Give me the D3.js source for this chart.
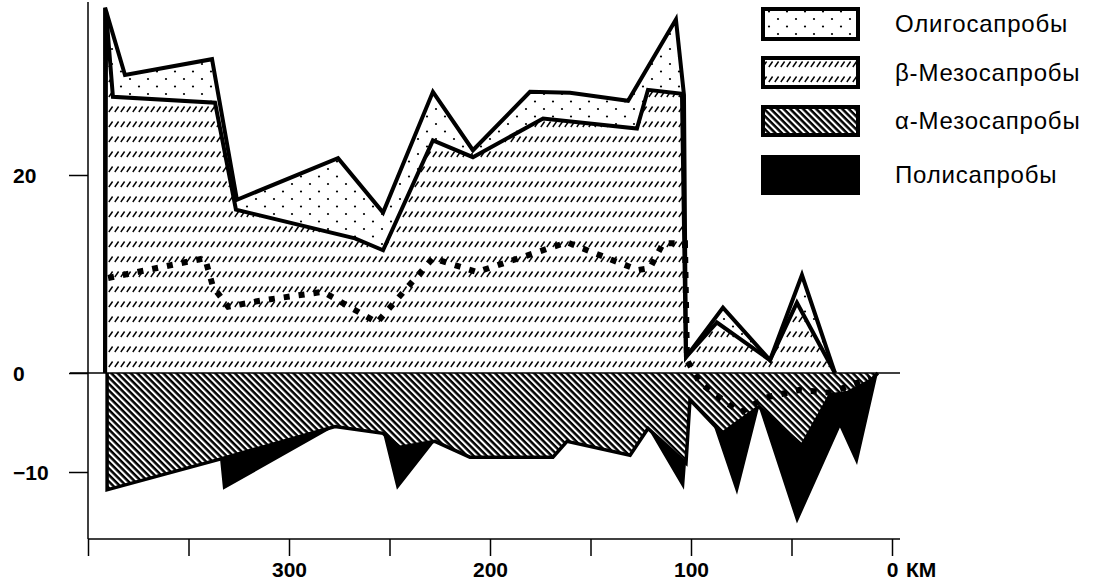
<!DOCTYPE html>
<meta charset="utf-8">
<style>
body { margin: 0; background: #fff; }
svg { display: block; font-family: "Liberation Sans", Arial, sans-serif; }
.outline { fill: none; stroke: #000; stroke-width: 4; }
.axis line, .axis path { stroke: #000; stroke-width: 1.5; }
.axis text { font-size: 21px; font-weight: bold; fill: #000; }
</style>
<svg width="1103" height="583"></svg>
<script src="https://d3js.org/d3.v7.min.js"></script>
<script>

// distance along the river (km) and share of indicator species (%)
// upper edge of the oligosaprobes band (stacked on top of beta)
var oligKm  = [391.5, 391.5, 381.6, 338.3, 325.9, 275.6, 253.2, 228.4, 208.5, 180.1, 160.2, 131.3, 107.5, 103.5, 102.5, 84.1, 60.7, 44.8, 28.4];
var oligTop = [0,     36.9,  30.1,  31.7,  17.5,  21.7,  16.2,  28.4,  22.5,  28.4,  28.3,  27.5,  35.7,  28.1,  1.6,   6.6,  1.3,  9.9,  0];

// upper edge of the beta-mesosaprobes band
var betaKm  = [391.5, 391.0, 387.6, 336.8, 326.4, 267.2, 253.2, 228.4, 208.5, 173.6, 126.9, 121.4, 104.5, 102.5, 87.1, 60.7, 47.3, 28.4];
var betaTop = [0,     36.5,  27.9,  27.3,  16.5,  13.6,  12.4,  23.5,  21.8,  25.7,  24.7,  28.6,  28.2,  1.6,   5.1,  1.3,  7.1,  0];

// lower edge of the alpha-mesosaprobes band (drawn below zero)
var alphaKm  = [390.5, 390.5, 334.3, 277.1, 253.2, 244.8, 227.4, 210.0, 168.7, 161.7, 130.3, 121.4, 102.5, 100.5, 84.6, 66.2, 44.8, 30.8, 22.4, 10.9, 7.0];
var alphaBot = [0,     -11.8, -8.7,  -5.4,  -6.1,  -7.5,  -6.9,  -8.5,  -8.5,  -6.9,  -8.3,  -5.6,  -9.1,  -2.7,  -6.1, -3.4, -7.3, -2.2, -2.0, -0.8, 0];

// lower edge of the polysaprobes band
var polyKm  = [390.5, 390.5, 334.3, 332.8, 277.1, 253.2, 246.3, 227.4, 210.0, 168.7, 161.7, 130.3, 121.4, 103.5, 102.5, 100.5, 89.1, 77.1, 66.2, 47.3, 25.9, 17.4, 7.0];
var polyBot = [0,     -11.8, -8.7,  -11.8, -5.4,  -6.1,  -11.8, -6.9,  -8.5,  -8.5,  -6.9,  -8.3,  -5.6,  -11.8, -9.1,  -2.7,  -5.1, -12.3, -3.5, -15.2, -5.5, -9.3, 0];

// dotted index line
var indexKm  = [390.0, 341.8, 337.8, 330.3, 314.4, 283.1, 256.2, 247.3, 228.4, 206.5, 161.7, 126.4, 120.4, 113.9, 103.0, 102.0, 95.5, 75.6, 63.2, 45.8, 30.8, 10.9];
var indexVal = [9.6,   11.6,  8.7,   6.7,   7.3,   8.2,   5.1,   7.2,   11.6,  10.2,  13.2,  10.4,  10.6,  13.1,  13.1,  1.3,   -1.0, -4.0, -2.5, -1.7, -2.0, -0.5];

var kmTicks = [400, 350, 300, 250, 200, 150, 100, 50, 0];
var kmLabels = {300: '300', 200: '200', 100: '100', 0: '0'};
var yTicks = [20, 0, -10];
var legendLabels = ['Олигосапробы', 'β-Мезосапробы', 'α-Мезосапробы', 'Полисапробы'];

var svg = d3.select('svg');

var x = d3.scaleLinear().domain([400, 0]).range([88, 892]);
var y = d3.scaleLinear().domain([0, 20]).range([373, 175]);

function pts(km, v) {
  return km.map(function(k, i) { return [k, v[i]]; });
}

// fill patterns
var defs = svg.append('defs');

var pDots = defs.append('pattern').attr('id', 'dots')
  .attr('patternUnits', 'userSpaceOnUse').attr('width', 18).attr('height', 15);
pDots.append('rect').attr('width', 18).attr('height', 15).attr('fill', '#fff');
pDots.append('circle').attr('cx', 4).attr('cy', 4).attr('r', 1.1).attr('fill', '#000');
pDots.append('circle').attr('cx', 13).attr('cy', 11.5).attr('r', 1.1).attr('fill', '#000');

var pDash = defs.append('pattern').attr('id', 'dash')
  .attr('patternUnits', 'userSpaceOnUse').attr('width', 6).attr('height', 15);
pDash.append('rect').attr('width', 6).attr('height', 15).attr('fill', '#fff');
pDash.append('path').attr('d', 'M0.8,7 L4.6,1.5').attr('stroke', '#000').attr('stroke-width', 1.4);

var pHatch = defs.append('pattern').attr('id', 'hatch')
  .attr('patternUnits', 'userSpaceOnUse').attr('width', 4.6).attr('height', 4.6)
  .attr('patternTransform', 'rotate(45)');
pHatch.append('rect').attr('width', 4.6).attr('height', 4.6).attr('fill', '#fff');
pHatch.append('rect').attr('width', 4.6).attr('height', 2.5).attr('fill', '#000');

var area = d3.area()
  .x(function(d) { return x(d[0]); })
  .y0(y(0))
  .y1(function(d) { return y(d[1]); });

var line = d3.line()
  .x(function(d) { return x(d[0]); })
  .y(function(d) { return y(d[1]); });

var oligPts = pts(oligKm, oligTop),
    betaPts = pts(betaKm, betaTop),
    alphaPts = pts(alphaKm, alphaBot),
    polyPts = pts(polyKm, polyBot);

svg.append('path').attr('d', area(oligPts)).attr('fill', 'url(#dots)');
svg.append('path').attr('d', area(betaPts)).attr('fill', 'url(#dash)');
svg.append('path').attr('d', area(polyPts)).attr('fill', '#000');
svg.append('path').attr('d', area(alphaPts)).attr('fill', 'url(#hatch)');

svg.append('path').attr('class', 'outline').attr('d', line(oligPts));
svg.append('path').attr('class', 'outline').attr('d', line(betaPts));
svg.append('path').attr('class', 'outline').attr('d', line(alphaPts)).style('stroke-width', 3.5);

svg.append('path')
  .attr('d', line(pts(indexKm, indexVal)))
  .attr('fill', 'none')
  .attr('stroke', '#000')
  .attr('stroke-width', 6)
  .attr('stroke-dasharray', '6 9');

// zero line
svg.append('line')
  .attr('x1', 70).attr('x2', 900)
  .attr('y1', y(0)).attr('y2', y(0))
  .attr('stroke', '#000').attr('stroke-width', 1.5);

// y axis
svg.append('line')
  .attr('x1', 88).attr('x2', 88).attr('y1', 2).attr('y2', 539)
  .attr('stroke', '#000').attr('stroke-width', 1.5);

var yAxis = svg.append('g').attr('class', 'axis')
  .attr('transform', 'translate(88,0)')
  .call(d3.axisLeft(y).tickValues(yTicks).tickSize(19).tickPadding(0).tickFormat(d3.format('d')));
yAxis.select('.domain').remove();
yAxis.selectAll('text').attr('text-anchor', 'start').attr('x', -75).attr('dy', '0.35em');

// x axis
svg.append('line')
  .attr('x1', 88).attr('x2', 900).attr('y1', 539).attr('y2', 539)
  .attr('stroke', '#000').attr('stroke-width', 1.5);

var xAxis = svg.append('g').attr('class', 'axis')
  .attr('transform', 'translate(0,539)')
  .call(d3.axisBottom(x).tickValues(kmTicks).tickSize(17).tickPadding(6)
    .tickFormat(function(d) { return kmLabels[d] || ''; }));
xAxis.select('.domain').remove();

svg.append('text')
  .attr('x', 906).attr('y', 539 + 17 + 6).attr('dy', '0.71em')
  .style('font-size', '21px').style('font-weight', 'bold')
  .text('КМ');

// legend
var legendFill = ['url(#dots)', 'url(#dash)', 'url(#hatch)', '#000'];
var legendY = [9, 58, 107, 157],
    legendH = [30, 29, 28, 36];

var legend = svg.append('g');
legend.selectAll('rect')
  .data(legendLabels)
  .enter()
  .append('rect')
  .attr('x', 763)
  .attr('y', function(d, i) { return legendY[i]; })
  .attr('width', 95)
  .attr('height', function(d, i) { return legendH[i]; })
  .attr('fill', function(d, i) { return legendFill[i]; })
  .attr('stroke', '#000')
  .attr('stroke-width', 4);

legend.selectAll('text')
  .data(legendLabels)
  .enter()
  .append('text')
  .attr('x', 895)
  .attr('y', function(d, i) { return legendY[i] + legendH[i] / 2; })
  .attr('dy', '0.35em')
  .style('font-size', '24px')
  .style('letter-spacing', '0.8px')
  .text(function(d) { return d; });

</script>
